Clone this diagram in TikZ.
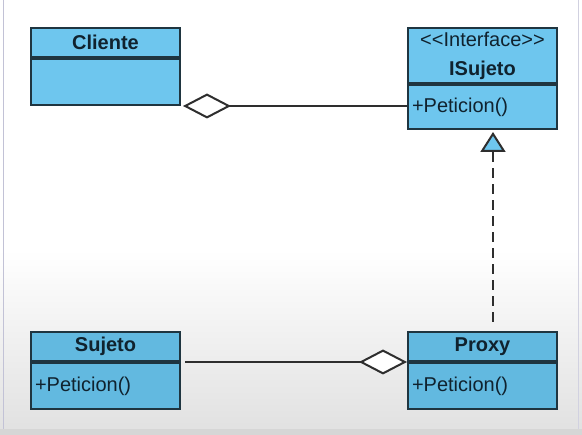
\documentclass[tikz,border=0pt]{standalone}
\usepackage{amsmath}
\usepackage{fontspec}
\setmainfont{Liberation Sans}
\usepackage{tikz}
\usetikzlibrary{positioning,arrows.meta}

\definecolor{boxblue}{HTML}{6EC6EE}
\definecolor{boxblued}{HTML}{62B9E0}
\definecolor{boxline}{HTML}{1F3540}
\definecolor{txt}{HTML}{10222E}
\definecolor{conline}{HTML}{2E2E2E}

\tikzset{
    clshead/.style={draw=boxline, fill=boxblue, line width=2pt, inner sep=0pt,
        minimum width=149pt, text=txt, font=\fontsize{20}{24}\selectfont\bfseries},
    clsbody/.style={draw=boxline, fill=boxblue, line width=2pt, inner sep=0pt,
        minimum width=149pt, text width=141pt, align=left, text=txt,
        font=\fontsize{20}{24}\selectfont},
    aggr/.style={draw=conline, line width=2pt, -{Diamond[fill=white, length=48pt, width=25pt]}},
    realiz/.style={draw=conline, line width=2pt, dash pattern=on 10pt off 6pt,
        -{Triangle[fill=boxblue, length=20pt, width=25pt]}}
}

\begin{document}
\begin{tikzpicture}[x=1pt, y=-1pt]
                \useasboundingbox (0,0) rectangle (582,435);

                % Background
                \fill[white] (0,0) rectangle (582,250);
                \shade[top color=white, bottom color=black!12] (0,250) rectangle (582,435);
                \fill[black!16] (0,429) rectangle (582,435);
                \draw[blue!20!gray!40, line width=1pt] (3,0) -- (3,429);
                \draw[blue!20!gray!30, line width=1pt] (578,0) -- (578,429);

                % Cliente
                \node[clshead, minimum height=29pt] (cliente) at (105.5,42.5) {Cliente};
                \node[clsbody, minimum height=46pt, below=0pt of cliente] (clienteops) {};

                % ISujeto
                \node[clshead, minimum height=55pt, align=center] (isujeto) at (482.5,55.5)
                    {{\mdseries {<}{<}Interface{>}{>}}\\[5pt]ISujeto};
                \node[clsbody, minimum height=44pt, below=0pt of isujeto] (isujetoops) {+Peticion()};

                % Sujeto
                \node[clshead, fill=boxblued, minimum height=29pt] (sujeto) at (105.5,346.5) {Sujeto};
                \node[clsbody, fill=boxblued, minimum height=46pt, below=0pt of sujeto] (sujetoops) {+Peticion()\\[6pt]};

                % Proxy
                \node[clshead, fill=boxblued, minimum height=29pt] (proxy) at (482.5,346.5) {Proxy};
                \node[clsbody, fill=boxblued, minimum height=46pt, below=0pt of proxy] (proxyops) {+Peticion()\\[6pt]};

                % Relations
                \draw[aggr, shorten >=2pt] (clienteops.south east -| isujetoops.west) -- (clienteops.south east);
                \draw[aggr, shorten <=4pt] (sujeto.south east) -- (sujeto.south east -| proxy.west);
                \draw[realiz, shorten <=9pt, shorten >=2pt] ([xshift=10.5pt]proxy.north) -- ([xshift=10.5pt]isujetoops.south);
            \end{tikzpicture}
\end{document}
